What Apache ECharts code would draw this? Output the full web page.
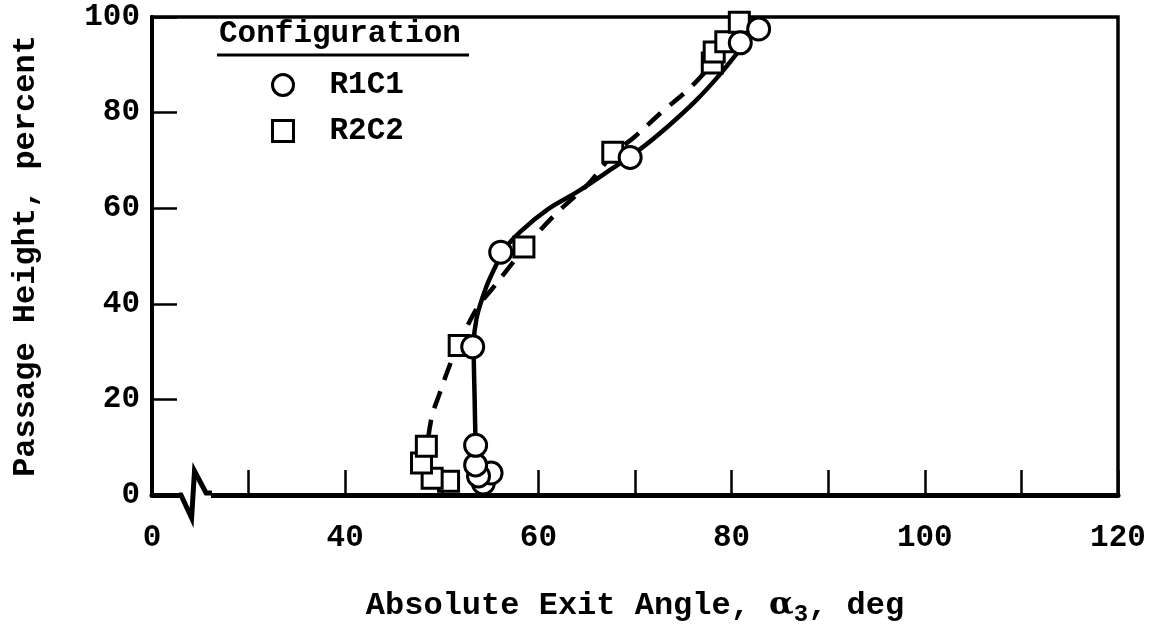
<!DOCTYPE html>
<html>
<head>
<meta charset="utf-8">
<script src="https://cdn.jsdelivr.net/npm/echarts@6/dist/echarts.min.js"></script>
<style>
html,body{margin:0;padding:0;background:#fff;}
#main{width:1164px;height:632px;}
</style>
</head>
<body>
<div id="main"></div>
<script>
// ---- data (x: absolute exit angle, deg; y: passage height, percent) ----
const r1c1Points = [[54.3,2.5],[55.1,4.6],[53.8,4.0],[53.5,6.3],[53.5,10.4],[53.2,31.0],[56.1,50.8],[69.5,70.6],[80.9,94.6],[82.8,97.5]];
const r2c2Points = [[50.7,2.9],[49.0,3.5],[47.9,6.7],[48.4,10.2],[51.8,31.3],[58.5,51.9],[67.7,71.7],[78.0,90.4],[78.2,92.7],[79.4,94.8],[80.8,98.9]];
const r1c1Curve = [[53.5,10],[53.4,20],[53.3,31],[53.6,37],[54.6,43.5],[55.6,48],[56.3,51],[58.2,55.2],[61.0,59.8],[64.1,63.5],[67.5,68.1],[70.5,72.3],[73.4,77.1],[76.3,82.5],[78.8,88.0],[80.8,93.0],[82.2,96.5],[83.3,100]];
const r2c2Curve = [[48.6,12],[49.0,16.7],[49.7,20.8],[50.7,26.5],[51.6,31],[52.5,34.8],[53.8,39.6],[55.2,43.1],[56.6,46.7],[57.9,50],[58.7,52],[60.0,55],[62.0,59.2],[63.8,62.5],[65.4,65.6],[67.7,71.2],[70.0,75],[72.7,80],[75.5,84.8],[77.8,89.8],[79.5,94.5],[81.0,99]];
const seriesNames = ['R1C1','R2C2'];
const legendTitle = 'Configuration';
// axis: broken at the left, position 20 is labelled 0
const xTickValues = [20,40,60,80,100,120];
const xTickLabels = ['0','40','60','80','100','120'];
const yTickValues = [0,20,40,60,80,100];
const yTickLabels = ['0','20','40','60','80','100'];
const xTitle = 'Absolute Exit Angle, {a|α}{s|3}, deg';
const yTitle = 'Passage Height, percent';

const FONT = 'Liberation Mono';
const chart = echarts.init(document.getElementById('main'), null, {renderer:'canvas'});

const option = {
  backgroundColor:'#fff',
  animation:false,
  grid:{left:152,right:46,top:17,bottom:134,show:true,borderColor:'#000',borderWidth:3.5,backgroundColor:'transparent'},
  legend:{
    data:seriesNames,
    orient:'vertical',
    left:266, top:63,
    itemWidth:21,itemHeight:21,itemGap:12,
    itemStyle:{color:'#fff',borderColor:'#000',borderWidth:3},
    textStyle:{fontFamily:FONT,fontWeight:'bold',fontSize:31,color:'#000',padding:[0,0,0,31],lineHeight:34}
  },
  xAxis:{
    type:'value',min:20,max:120,interval:10,
    name:xTitle,nameLocation:'middle',nameGap:90,
    nameTextStyle:{fontFamily:FONT,fontWeight:'bold',fontSize:32,color:'#000',
      rich:{a:{fontFamily:'DejaVu Serif',fontSize:32,color:'#000'},s:{fontFamily:FONT,fontWeight:'bold',fontSize:24,color:'#000',padding:[18,0,0,0]}}},
    axisLine:{show:true,lineStyle:{color:'#000',width:5}},
    axisTick:{show:true,inside:true,length:25,lineStyle:{color:'#000',width:2.5}},
    splitLine:{show:false},
    axisLabel:{margin:28,fontFamily:FONT,fontWeight:'bold',fontSize:31,color:'#000',
      formatter:function(v){const i=xTickValues.indexOf(v);return i>=0?xTickLabels[i]:'';}}
  },
  yAxis:{
    type:'value',min:0,max:100,interval:20,
    name:yTitle,nameLocation:'middle',nameGap:110,
    nameTextStyle:{fontFamily:FONT,fontWeight:'bold',fontSize:32,color:'#000'},
    axisLine:{show:true,lineStyle:{color:'#000',width:4}},
    axisTick:{show:true,inside:true,length:25,lineStyle:{color:'#000',width:2.5}},
    splitLine:{show:false},
    axisLabel:{margin:12,fontFamily:FONT,fontWeight:'bold',fontSize:31,color:'#000',
      formatter:function(v){const i=yTickValues.indexOf(v);return i>=0?yTickLabels[i]:'';}}
  },
  series:[
    {name:'R1C1 fit',type:'line',data:r1c1Curve,smooth:0.35,symbol:'none',z:2,
      lineStyle:{color:'#000',width:4.5,type:'solid'}},
    {name:'R2C2 fit',type:'line',data:r2c2Curve,smooth:0.35,symbol:'none',z:2,
      lineStyle:{color:'#000',width:4.5,type:[18,12]}},
    {name:'R2C2',type:'scatter',data:r2c2Points,symbol:'rect',symbolSize:20,z:3,
      itemStyle:{color:'#fff',borderColor:'#000',borderWidth:3,opacity:1}},
    {name:'R1C1',type:'scatter',data:r1c1Points,symbol:'circle',symbolSize:22,z:4,
      itemStyle:{color:'#fff',borderColor:'#000',borderWidth:3,opacity:1}}
  ]
};
chart.setOption(option);

// decorations: legend heading + underline, axis-break zigzag
function px(x,y){return chart.convertToPixel({gridIndex:0},[x,y]);}
const o = px(20,0);
const a = px(23.0,0), b = px(24.1,0), c = px(24.4,0), d = px(25.6,0), e = px(26.0,0);
chart.setOption({
  graphic:[
    {type:'text',left:219,top:19,z:10,style:{text:legendTitle,fontFamily:FONT,fontWeight:'bold',fontSize:31,fill:'#000'}},
    {type:'line',z:10,shape:{x1:217,y1:55,x2:469,y2:55},style:{stroke:'#000',lineWidth:3}},
    {type:'rect',z:20,shape:{x:a[0]-1,y:o[1]-4,width:e[0]-a[0]+2,height:8},style:{fill:'#fff'}},
    {type:'polyline',z:21,shape:{points:[[a[0]-2,o[1]],[a[0],o[1]],[b[0],o[1]+23],[c[0],o[1]-24],[d[0],o[1]-2],[e[0]+2,o[1]-2]]},
      style:{stroke:'#000',lineWidth:5,fill:null,lineJoin:'miter'}}
  ]
});
</script>
</body>
</html>
